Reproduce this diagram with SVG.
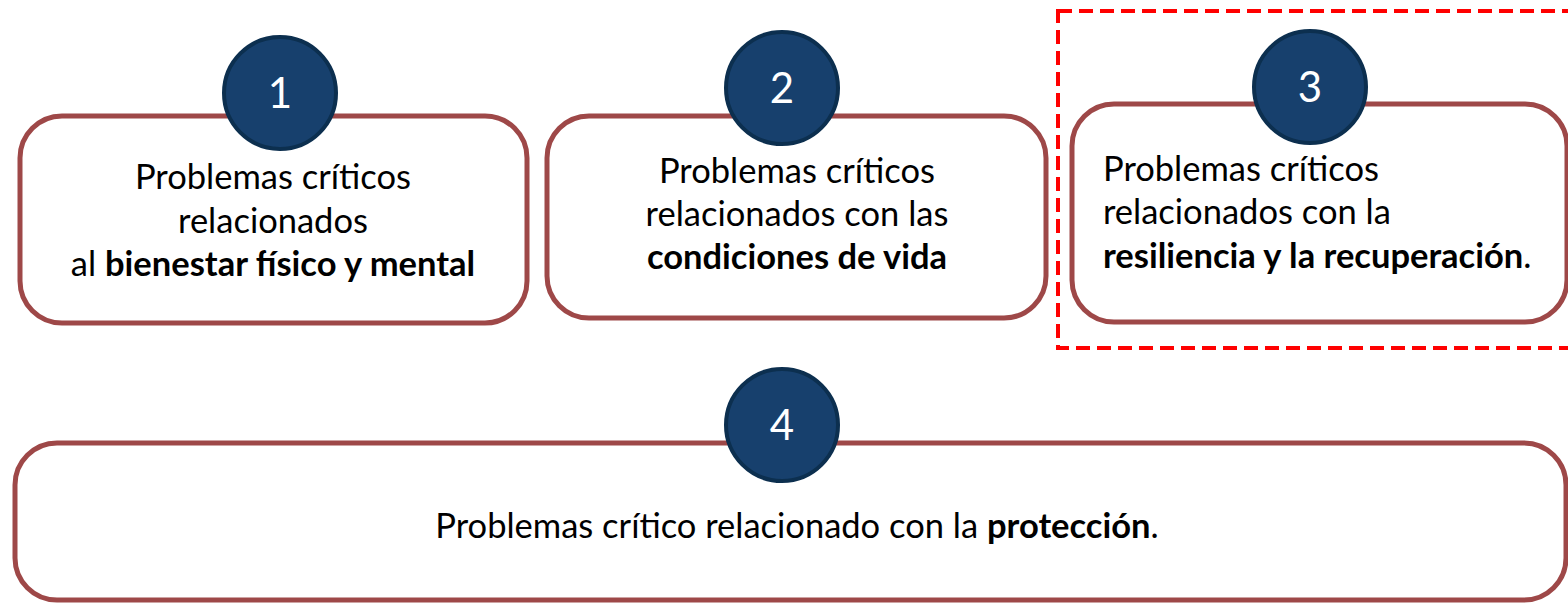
<svg xmlns="http://www.w3.org/2000/svg" width="1568" height="603" viewBox="0 0 1568 603">
<style>
.box{fill:#fff;stroke:#9E4848;stroke-width:5}
.num{fill:#17406D;stroke:#0C2F4F;stroke-width:4}
.nt{font-family:Lato,"Open Sans",sans-serif;font-size:42px;fill:#fff;text-anchor:middle}
.t{font-family:Lato,"Open Sans",sans-serif;font-size:34.5px;fill:#000}
.c{text-anchor:middle}
.b{font-weight:bold}
.sel{fill:none;stroke:#FF0000;stroke-width:4;stroke-dasharray:14,7}
</style>
<rect width="1568" height="603" fill="#fff"/>
<rect class="sel" x="1058" y="11" width="530" height="337"/>
<g id="node1">
<rect class="box" x="20" y="116" width="507" height="207" rx="42"/>
<circle class="num" cx="280" cy="93" r="56"/>
<text class="nt" x="280" y="108">1</text>
<text class="t c" x="273" y="189">Problemas críticos</text>
<text class="t c" x="273" y="233">relacionados</text>
<text class="t c" x="273" y="276">al <tspan class="b">bienestar físico y mental</tspan></text>
</g>
<g id="node2">
<rect class="box" x="547" y="116" width="499" height="202" rx="42"/>
<circle class="num" cx="782" cy="88" r="56"/>
<text class="nt" x="782" y="103">2</text>
<text class="t c" x="797" y="183">Problemas críticos</text>
<text class="t c" x="797" y="226">relacionados con las</text>
<text class="t c" x="797" y="269"><tspan class="b">condiciones de vida</tspan></text>
</g>
<g id="node3">
<rect class="box" x="1072" y="104" width="495" height="218" rx="42"/>
<circle class="num" cx="1310" cy="87" r="56"/>
<text class="nt" x="1310" y="102">3</text>
<text class="t" x="1103" y="181">Problemas críticos</text>
<text class="t" x="1103" y="224">relacionados con la</text>
<text class="t" x="1103" y="268"><tspan class="b">resiliencia y la recuperación</tspan>.</text>
</g>
<g id="node4">
<rect class="box" x="15" y="443" width="1551" height="157" rx="42"/>
<circle class="num" cx="782" cy="425" r="56"/>
<text class="nt" x="782" y="440">4</text>
<text class="t c" x="797" y="538">Problemas crítico relacionado con la <tspan class="b">protección</tspan>.</text>
</g>
<g id="connectors"/>
</svg>
